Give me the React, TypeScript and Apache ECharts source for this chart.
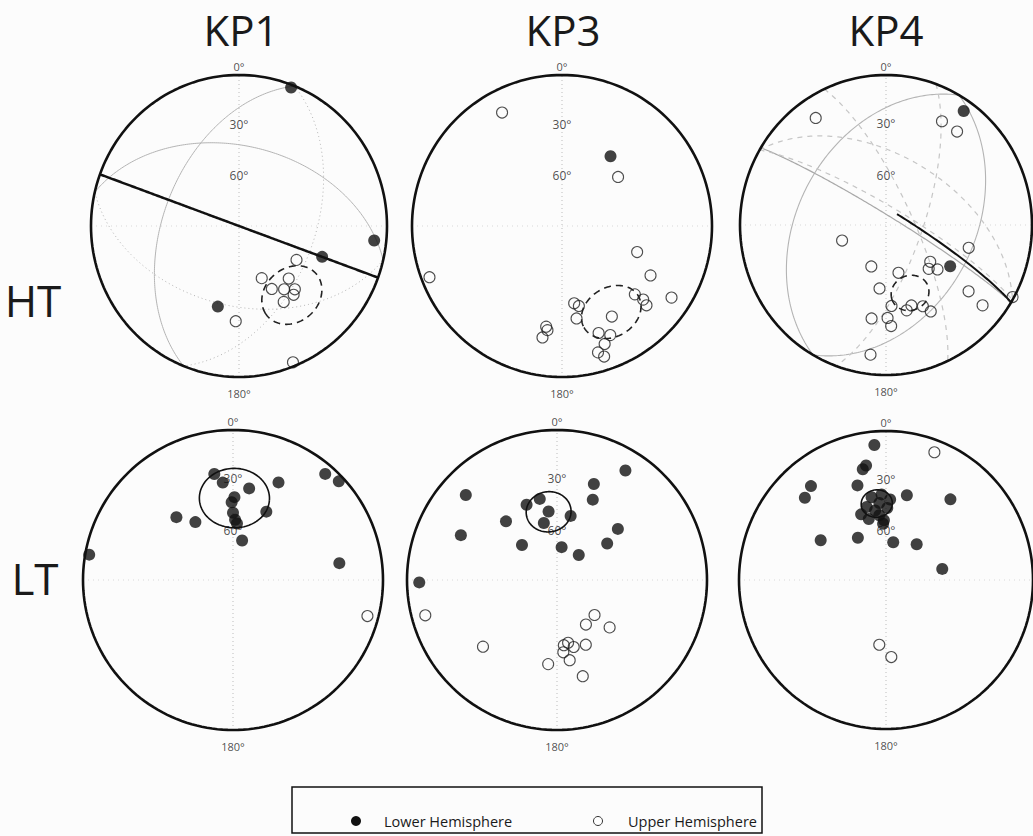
import React, { useEffect, useRef } from "react";
import * as echarts from "echarts";

// ---------- texts ----------
const SITE_TITLES = ["KP1", "KP3", "KP4"];
const STEP_LABELS = ["HT", "LT"];
const INCLINATION_TICKS = [30, 60];
const AZIMUTH_TICKS = ["0°", "180°"];
const LEGEND_LABELS = ["Lower Hemisphere", "Upper Hemisphere"];

// ---------- data: [declination, inclination] (negative inclination = upper hemisphere) ----------
const KP1_HT_LOWER = [[21, 2], [96, 9], [110, 40], [195, 44]];
const KP1_HT_UPPER = [[120, -53], [156, -59], [152, -51], [144, -47], [136, -50], [138, -43], [141, -41], [149, -41], [182, -37], [158, -3]];
const KP1_HT_MEAN = [142, -41, 16]; // dec, inc, a95
const KP1_HT_PLANES = [[202, 48], [283, 46]]; // strike, dip
const KP1_HT_VERTICAL_PLANE = [[110, 90]];

const KP3_HT_LOWER = [[35, 43]];
const KP3_HT_UPPER = [[332, -16], [49, -49], [249, -6], [109, -46], [119, -33], [123, -14], [133, -34], [132, -28], [133, -24], [171, -47], [168, -45], [171, -38], [151, -32], [189, -33], [188, -31], [190, -26], [161, -26], [156, -22], [160, -18], [164, -14], [162, -10]];
const KP3_HT_MEAN = [150, -34, 15];

const KP4_HT_LOWER = [[35, 8], [122, 47]];
const KP4_HT_UPPER = [[326, -15], [29, -22], [38, -22], [251, -64], [105, -41], [129, -58], [135, -56], [130, -52], [200, -66], [165, -63], [186, -55], [128, -29], [119, -1], [129, -16], [176, -45], [166, -41], [162, -43], [155, -40], [152, -35], [179, -38], [189, -37], [177, -33], [187, -14]];
const KP4_HT_MEAN = [160, -50, 10];
const KP4_HT_PLANES_FULL = [[210, 40]];
const KP4_HT_PLANES_LOWER = [[301, 85]];
const KP4_HT_PLANES_UPPER = [[120, 52], [120, 80], [200, 70], [155, 75]];
const KP4_HT_ARC = [[46, 81.5], [121, 0]];

const KP1_LT_LOWER = [[350, 29], [354, 35], [10, 38], [25, 29], [41, 7], [47, 4], [1, 44], [359, 47], [0, 53], [2, 57], [4, 59], [26, 48], [318, 43], [327, 52], [13, 68], [280, 3], [81, 29]];
const KP1_LT_UPPER = [[105, -8]];
const KP1_LT_MEAN = [1, 44, 17.5];

const KP3_LT_LOWER = [[32, 15], [21, 32], [24, 41], [313, 18], [295, 30], [319, 47], [338, 45], [348, 44], [353, 52], [12, 54], [347, 58], [315, 63], [8, 72], [41, 72], [54, 56], [50, 46], [269, 9]];
const KP3_LT_UPPER = [[255, -10], [228, -34], [133, -62], [147, -61], [132, -51], [170, -55], [174, -54], [166, -52], [156, -51], [175, -50], [171, -45], [186, -43], [165, -34]];
const KP3_LT_MEAN = [353, 52, 11.5];

const KP4_LT_LOWER = [[355, 10], [350, 23], [348, 25], [321, 20], [315, 23], [343, 34], [14, 41], [39, 31], [350, 43], [357, 42], [3, 45], [355, 47], [345, 48], [339, 51], [344, 55], [354, 54], [1, 50], [358, 57], [351, 51], [357, 59], [301, 47], [326, 62], [11, 69], [41, 64], [79, 58]];
const KP4_LT_UPPER = [[21, -9], [186, -54], [176, -47]];
const KP4_LT_MEAN = [353, 47, 8];

// ---------- layout ----------
const PANELS = [
  { cx: 239, cy: 226, rx: 148, ry: 151 },
  { cx: 562, cy: 226, rx: 150, ry: 151 },
  { cx: 886, cy: 225, rx: 146, ry: 150 },
  { cx: 233, cy: 580, rx: 150, ry: 150 },
  { cx: 557, cy: 580, rx: 150, ry: 150 },
  { cx: 886, cy: 580, rx: 147, ry: 149 },
];

// ---------- equal-area projection ----------
const D2R = Math.PI / 180;
type V3 = [number, number, number];
const toVec = (dec: number, inc: number): V3 => [
  Math.cos(inc * D2R) * Math.cos(dec * D2R),
  Math.cos(inc * D2R) * Math.sin(dec * D2R),
  Math.sin(inc * D2R),
];
const projVec = (v: V3): number[] => {
  const len = Math.hypot(v[0], v[1], v[2]);
  const n = v[0] / len, e = v[1] / len, d = v[2] / len;
  const h = Math.hypot(n, e);
  if (h < 1e-9) return [0, 0];
  const r = Math.sqrt(Math.max(0, 1 - Math.abs(d)));
  return [(r * e) / h, (r * n) / h];
};
const project = (dec: number, inc: number) => projVec(toVec(dec, inc));
const radiusOf = (inc: number) => Math.sqrt(1 - Math.sin(Math.abs(inc) * D2R));

const planeHalf = (strike: number, dip: number, upper: boolean) => {
  const S: V3 = [Math.cos(strike * D2R), Math.sin(strike * D2R), 0];
  const dd = (strike + 90) * D2R, dp = dip * D2R;
  const D: V3 = [Math.cos(dd) * Math.cos(dp), Math.sin(dd) * Math.cos(dp), Math.sin(dp)];
  const pts: number[][] = [];
  for (let i = 0; i <= 180; i++) {
    const t = (upper ? 180 + i : i) * D2R;
    const c = Math.cos(t), s = Math.sin(t);
    pts.push(projVec([S[0] * c + D[0] * s, S[1] * c + D[1] * s, S[2] * c + D[2] * s]));
  }
  return pts;
};

const smallCircle = (dec: number, inc: number, a95: number) => {
  const m = toVec(dec, Math.abs(inc));
  const u: V3 = [-Math.sin(dec * D2R), Math.cos(dec * D2R), 0];
  const w: V3 = [m[1] * u[2] - m[2] * u[1], m[2] * u[0] - m[0] * u[2], m[0] * u[1] - m[1] * u[0]];
  const a = a95 * D2R, ca = Math.cos(a), sa = Math.sin(a);
  const pts: number[][] = [];
  for (let i = 0; i <= 120; i++) {
    const p = i * 3 * D2R, c = Math.cos(p), s = Math.sin(p);
    pts.push(projVec([
      m[0] * ca + sa * (c * u[0] + s * w[0]),
      m[1] * ca + sa * (c * u[1] + s * w[1]),
      m[2] * ca + sa * (c * u[2] + s * w[2]),
    ]));
  }
  return pts;
};

const greatArc = (a: number[], b: number[]) => {
  const va = toVec(a[0], a[1]), vb = toVec(b[0], b[1]);
  const dot = Math.max(-1, Math.min(1, va[0] * vb[0] + va[1] * vb[1] + va[2] * vb[2]));
  const om = Math.acos(dot), so = Math.sin(om);
  const pts: number[][] = [];
  for (let i = 0; i <= 60; i++) {
    const t = i / 60;
    const k1 = Math.sin((1 - t) * om) / so, k2 = Math.sin(t * om) / so;
    pts.push(projVec([k1 * va[0] + k2 * vb[0], k1 * va[1] + k2 * vb[1], k1 * va[2] + k2 * vb[2]]));
  }
  return pts;
};

const boundary = () => {
  const pts: number[][] = [];
  for (let i = 0; i <= 360; i += 2) pts.push([Math.sin(i * D2R), Math.cos(i * D2R)]);
  return pts;
};

const FONT = "'Open Sans', 'Noto Sans', sans-serif";

function buildOption() {
  const grid: any[] = [], xAxis: any[] = [], yAxis: any[] = [], series: any[] = [];

  const panelData = [
    { lower: KP1_HT_LOWER, upper: KP1_HT_UPPER, mean: KP1_HT_MEAN, dashed: true },
    { lower: KP3_HT_LOWER, upper: KP3_HT_UPPER, mean: KP3_HT_MEAN, dashed: true },
    { lower: KP4_HT_LOWER, upper: KP4_HT_UPPER, mean: KP4_HT_MEAN, dashed: true },
    { lower: KP1_LT_LOWER, upper: KP1_LT_UPPER, mean: KP1_LT_MEAN, dashed: false },
    { lower: KP3_LT_LOWER, upper: KP3_LT_UPPER, mean: KP3_LT_MEAN, dashed: false },
    { lower: KP4_LT_LOWER, upper: KP4_LT_UPPER, mean: KP4_LT_MEAN, dashed: false },
  ];

  PANELS.forEach((p, i) => {
    grid.push({ left: p.cx - p.rx, top: p.cy - p.ry, width: 2 * p.rx, height: 2 * p.ry, show: false });
    xAxis.push({ type: "value", gridIndex: i, min: -1, max: 1, show: false });
    yAxis.push({ type: "value", gridIndex: i, min: -1, max: 1, show: false });
    const base = { xAxisIndex: i, yAxisIndex: i, silent: true, clip: false, animation: false };
    const line = (data: number[][], lineStyle: any, z: number) =>
      series.push({ ...base, type: "line", data, symbol: "none", showSymbol: false, lineStyle, z });

    // faint axes
    line([[0, -1], [0, 1]], { color: "#bcbcbc", width: 1, type: [1, 3] }, 1);
    line([[-1, 0], [1, 0]], { color: "#d8d8d8", width: 1, type: [1, 4] }, 1);

    // great circles
    const gray = "#b4b4b4";
    if (i === 0) {
      KP1_HT_PLANES.forEach(([s, d]) => {
        line(planeHalf(s, d, false), { color: gray, width: 1 }, 2);
        line(planeHalf(s, d, true), { color: gray, width: 1, type: [1, 3] }, 2);
      });
      KP1_HT_VERTICAL_PLANE.forEach(([s, d]) => line(planeHalf(s, d, false), { color: "#111", width: 2.5 }, 3));
    }
    if (i === 2) {
      KP4_HT_PLANES_FULL.forEach(([s, d]) => {
        line(planeHalf(s, d, false), { color: gray, width: 1.1 }, 2);
        line(planeHalf(s, d, true), { color: gray, width: 1.1 }, 2);
      });
      KP4_HT_PLANES_LOWER.forEach(([s, d]) => line(planeHalf(s, d, false), { color: "#a8a8a8", width: 1.2 }, 2));
      KP4_HT_PLANES_UPPER.forEach(([s, d]) => line(planeHalf(s, d, true), { color: "#c6c6c6", width: 1.2, type: [5, 5] }, 2));
      line(greatArc(KP4_HT_ARC[0], KP4_HT_ARC[1]), { color: "#111", width: 2 }, 3);
    }

    // confidence circle
    const pd = panelData[i];
    line(smallCircle(pd.mean[0], pd.mean[1], pd.mean[2]),
      pd.dashed ? { color: "#222", width: 1.6, type: [7, 5] } : { color: "#111", width: 1.6 }, 3);

    // tick labels (under points)
    series.push({
      ...base, type: "scatter", symbolSize: 1, itemStyle: { color: "rgba(0,0,0,0)" }, z: 2,
      data: INCLINATION_TICKS.map((t) => ({ value: [0, radiusOf(t)], name: t + "°" })),
      label: { show: true, formatter: "{b}", position: "inside", offset: [0, 5], fontSize: 12, color: "#222", fontFamily: FONT },
    });
    series.push({
      ...base, type: "scatter", symbolSize: 1, itemStyle: { color: "rgba(0,0,0,0)" }, z: 6,
      data: [{ value: [0, 1], name: AZIMUTH_TICKS[0] }],
      label: { show: true, formatter: "{b}", position: "top", distance: 3, fontSize: 11, color: "#222", fontFamily: FONT },
    });
    series.push({
      ...base, type: "scatter", symbolSize: 1, itemStyle: { color: "rgba(0,0,0,0)" }, z: 6,
      data: [{ value: [0, -1], name: AZIMUTH_TICKS[1] }],
      label: { show: true, formatter: "{b}", position: "bottom", distance: 10, fontSize: 11, color: "#222", fontFamily: FONT },
    });

    // directions
    series.push({
      ...base, name: LEGEND_LABELS[0], type: "scatter", symbol: "circle", symbolSize: 12, z: 4,
      itemStyle: { color: "#111" },
      data: pd.lower.map(([d, inc]) => project(d, inc)),
    });
    series.push({
      ...base, name: LEGEND_LABELS[1], type: "scatter", symbol: "circle", symbolSize: 11, z: 4,
      itemStyle: { color: "rgba(255,255,255,0)", borderColor: "#222", borderWidth: 1.1 },
      data: pd.upper.map(([d, inc]) => project(d, inc)),
    });

    // primitive circle
    line(boundary(), { color: "#111", width: 2.6 }, 5);
  });

  const graphic: any[] = [];
  const titleX = [PANELS[0].cx + 2, PANELS[1].cx + 1, PANELS[2].cx];
  SITE_TITLES.forEach((t, i) =>
    graphic.push({
      type: "text", x: titleX[i], y: 29,
      style: { text: t, fontSize: 42, fontFamily: FONT, fill: "#1a1a1a", align: "center", verticalAlign: "middle" },
    })
  );
  graphic.push({ type: "text", x: 33, y: 300, style: { text: STEP_LABELS[0], fontSize: 44, fontFamily: FONT, fill: "#1a1a1a", align: "center", verticalAlign: "middle" } });
  graphic.push({ type: "text", x: 35, y: 578, style: { text: STEP_LABELS[1], fontSize: 44, fontFamily: FONT, fill: "#1a1a1a", align: "center", verticalAlign: "middle" } });

  // legend box
  graphic.push({ type: "rect", shape: { x: 292, y: 787, width: 470, height: 46 }, style: { fill: "none", stroke: "#111", lineWidth: 1.5 } });
  graphic.push({ type: "circle", shape: { cx: 356, cy: 821, r: 5 }, style: { fill: "#111" } });
  graphic.push({ type: "text", x: 384, y: 821, style: { text: LEGEND_LABELS[0], fontSize: 14.5, fontFamily: FONT, fill: "#1a1a1a", verticalAlign: "middle" } });
  graphic.push({ type: "circle", shape: { cx: 598, cy: 821, r: 4.5 }, style: { fill: "#fff", stroke: "#333", lineWidth: 1 } });
  graphic.push({ type: "text", x: 628, y: 821, style: { text: LEGEND_LABELS[1], fontSize: 14.5, fontFamily: FONT, fill: "#1a1a1a", verticalAlign: "middle" } });

  return { animation: false, backgroundColor: "#fcfcfc", grid, xAxis, yAxis, series, graphic };
}

export default function App() {
  const ref = useRef<HTMLDivElement>(null);
  useEffect(() => {
    document.body.style.margin = "0";
    const chart = echarts.init(ref.current!, undefined, { renderer: "svg" });
    chart.setOption(buildOption() as any);
    return () => chart.dispose();
  }, []);
  return <div ref={ref} style={{ width: 1033, height: 836 }} />;
}
